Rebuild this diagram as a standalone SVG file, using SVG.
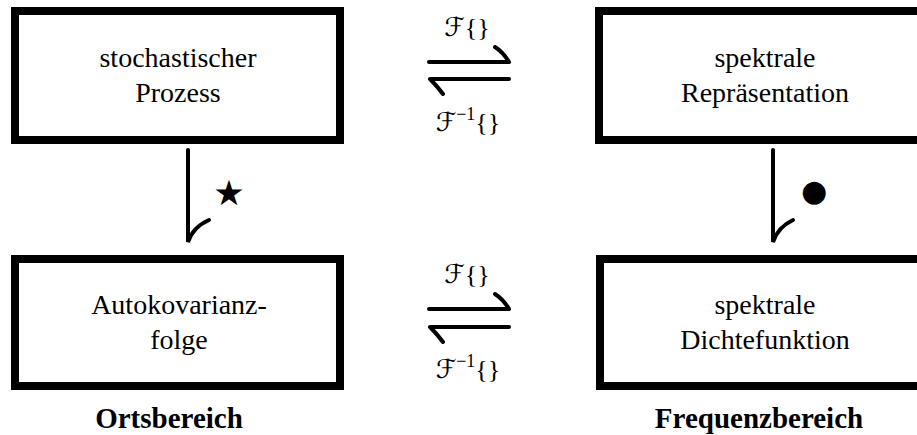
<svg xmlns="http://www.w3.org/2000/svg" width="917" height="435" viewBox="0 0 917 435">
<style>
.box{fill:#fff;stroke:#000;stroke-width:8}
.t{font-family:"Liberation Serif",serif;font-size:28px;text-anchor:middle;fill:#000}
.b{font-family:"Liberation Serif",serif;font-size:29px;font-weight:bold;text-anchor:middle;fill:#000}
.m{font-family:"Liberation Serif",serif;font-size:26px;text-anchor:middle;fill:#000}
.cal{font-family:"DejaVu Sans","DejaVu Serif",serif;font-style:normal}
.sup{font-size:18px}
.ln{fill:none;stroke:#000;stroke-width:4;stroke-linecap:round}
.sym{font-family:"DejaVu Sans",sans-serif;text-anchor:middle;fill:#000}
</style>
<rect width="917" height="435" fill="#fff"/>
<g id="node-stochastischer-prozess">
<rect class="box" x="15" y="11" width="325" height="129"/>
<text class="t" x="178" y="67">stochastischer</text>
<text class="t" x="178" y="102">Prozess</text>
</g>
<g id="node-spektrale-repraesentation">
<rect class="box" x="599" y="11" width="332" height="129"/>
<text class="t" x="765" y="67">spektrale</text>
<text class="t" x="765" y="102">Repräsentation</text>
</g>
<g id="node-autokovarianzfolge">
<rect class="box" x="15" y="259" width="325" height="127"/>
<text class="t" x="179" y="314">Autokovarianz-</text>
<text class="t" x="179" y="349">folge</text>
</g>
<g id="node-spektrale-dichtefunktion">
<rect class="box" x="600" y="259" width="331" height="127"/>
<text class="t" x="765" y="314">spektrale</text>
<text class="t" x="765" y="349">Dichtefunktion</text>
</g>
<g id="connectors">
<path class="ln" d="M429,62 H509 M509,62 Q503,52 495,47"/>
<path class="ln" d="M430,79 H509 M430,79 Q437,86 443,94"/>
<path class="ln" d="M429,309 H509 M509,309 Q503,299 495,294"/>
<path class="ln" d="M430,327 H509 M430,327 Q437,334 443,342"/>
<path class="ln" d="M188,150 V242 Q193,227 209,220"/>
<path class="ln" d="M773,150 V242 Q778,227 793,220"/>
<text class="m" x="467" y="36"><tspan class="cal">ℱ</tspan>{}</text>
<text class="m" x="468" y="131"><tspan class="cal">ℱ</tspan><tspan class="sup" dy="-11">−1</tspan><tspan dy="11">{}</tspan></text>
<text class="m" x="467" y="283"><tspan class="cal">ℱ</tspan>{}</text>
<text class="m" x="468" y="378"><tspan class="cal">ℱ</tspan><tspan class="sup" dy="-11">−1</tspan><tspan dy="11">{}</tspan></text>
<text class="sym" x="229" y="205" font-size="35">★</text>
<text class="sym" x="814" y="201" font-size="30">●</text>
</g>
<text class="b" x="169" y="428">Ortsbereich</text>
<text class="b" x="759" y="428">Frequenzbereich</text>
</svg>
